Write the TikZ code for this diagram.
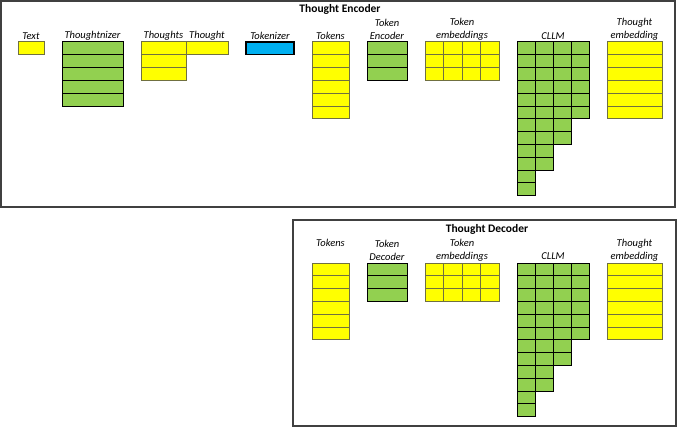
\documentclass[tikz,border=0pt]{standalone}
\usepackage{fontspec}
\setmainfont{Carlito}
\usepackage{tikz}

\definecolor{cellyellow}{RGB}{255,255,0}
\definecolor{cellgreen}{RGB}{146,208,80}
\definecolor{cellblue}{RGB}{0,176,240}
\definecolor{yellowedge}{RGB}{112,112,64}

\tikzset{
    ycell/.style={fill=cellyellow, draw=yellowedge, line width=1pt},
    gcell/.style={fill=cellgreen, draw=black, line width=1pt},
    bcell/.style={fill=cellblue, draw=black, line width=1.1pt},
    frame/.style={draw=black!75, line width=1.1pt},
    lbl/.style={font=\fontsize{10.5}{13}\selectfont\itshape, align=center, inner sep=0pt},
    title/.style={font=\fontsize{11.5}{13}\selectfont\bfseries, inner sep=0pt}
}

% cells: style, left, top, cell width, columns, rows
\newcommand{\cellblock}[6]{%
    \foreach \c in {1,...,#5}{
        \foreach \r in {1,...,#6}{
            \draw[#1] ({#2+(\c-1)*#4}, {#3+(\r-1)*12.8}) rectangle ++(#4, 12.8);
        }
    }
}

\begin{document}
\begin{tikzpicture}[x=1pt, y=-1pt]
    \useasboundingbox (0,0) rectangle (680,428);

    % encoder
    \draw[frame] (1,1) rectangle (675,207);
    \node[title] (enctitle) at (340,9) {Thought Encoder};

    \node[lbl] (text) at (31,36) {Text};
    \cellblock{ycell}{18}{42}{26}{1}{1}
    \node[lbl] (thoughtnizer) at (92.5,36) {Thoughtnizer};
    \cellblock{gcell}{62}{42}{61}{1}{5}
    \node[lbl] (thoughts) at (163.5,36) {Thoughts};
    \cellblock{ycell}{141}{42}{45}{1}{3}
    \node[lbl] (thought) at (207,36) {Thought};
    \cellblock{ycell}{186}{42}{42}{1}{1}
    \node[lbl] (tokenizer) at (270,36) {Tokenizer};
    \cellblock{bcell}{246}{42}{48}{1}{1}

    \node[lbl] (enctokens) at (330.5,36) {Tokens};
    \cellblock{ycell}{312}{42}{37}{1}{6}
    \node[lbl] (tokenenc) at (387,29.5) {Token\\Encoder};
    \cellblock{gcell}{367}{42}{40}{1}{3}
    \node[lbl] (encembed) at (462,29.5) {Token\\embeddings};
    \cellblock{ycell}{425}{42}{18.5}{4}{3}
    \node[lbl] (enccllm) at (553,36) {CLLM};
    \foreach \k/\n in {0/12, 1/10, 2/8, 3/6}{
        \cellblock{gcell}{517+\k*18}{42}{18}{1}{\n}
    }
    \node[lbl] (encthought) at (634.5,29.5) {Thought\\embedding};
    \cellblock{ycell}{607}{42}{55}{1}{6}

    % decoder
    \draw[frame] (293,220) rectangle (676,426);
    \node[title] (dectitle) at (487,229) {Thought Decoder};
    \begin{scope}[yshift=-221pt]
        \node[lbl] (dectokens) at (330.5,22) {Tokens};
        \cellblock{ycell}{312}{42}{37}{1}{6}
        \node[lbl] (tokendec) at (387,29.5) {Token\\Decoder};
        \cellblock{gcell}{367}{42}{40}{1}{3}
        \node[lbl] (decembed) at (462,29.5) {Token\\embeddings};
        \cellblock{ycell}{425}{42}{18.5}{4}{3}
        \node[lbl] (deccllm) at (553,35) {CLLM};
        \foreach \k/\n in {0/12, 1/10, 2/8, 3/6}{
            \cellblock{gcell}{517+\k*18}{42}{18}{1}{\n}
        }
        \node[lbl] (decthought) at (634.5,29.5) {Thought\\embedding};
        \cellblock{ycell}{607}{42}{55}{1}{6}
    \end{scope}
\end{tikzpicture}
\end{document}
